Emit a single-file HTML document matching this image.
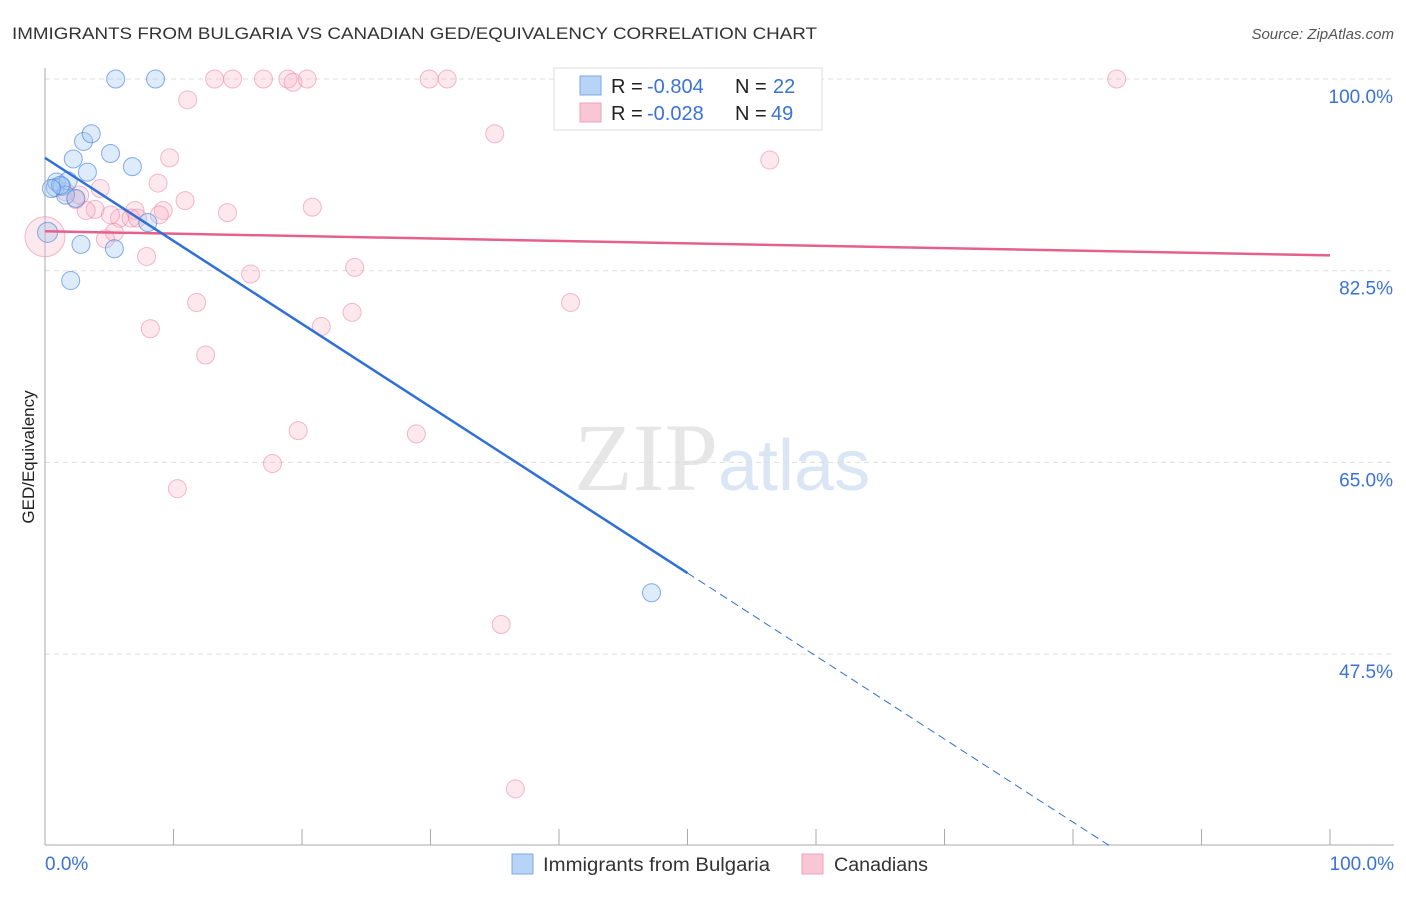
<!DOCTYPE html>
<html><head><meta charset="utf-8"><style>
body{margin:0;background:#fff;font-family:"Liberation Sans",sans-serif}
#wrap{position:relative;width:1406px;height:892px}
</style></head><body>
<div id="wrap">
<svg id="svg" width="1406" height="892" xmlns="http://www.w3.org/2000/svg">
<text x="12" y="39" font-size="17" fill="#333" textLength="805" lengthAdjust="spacingAndGlyphs">IMMIGRANTS FROM BULGARIA VS CANADIAN GED/EQUIVALENCY CORRELATION CHART</text>
<text x="1394" y="39" font-size="15" fill="#555" font-style="italic" text-anchor="end">Source: ZipAtlas.com</text>
<text x="718" y="490" font-size="96" fill="#e6e6e6" text-anchor="end" font-family="Liberation Serif">ZIP</text>
<text x="718" y="490" font-size="72" fill="#dbe6f5">atlas</text>
<text transform="translate(34,457) rotate(-90)" font-size="17" fill="#222" text-anchor="middle">GED/Equivalency</text>
<g id="grid"></g><g id="axes"></g><g id="marks"></g>
<g>
<rect x="554" y="68" width="268" height="62" fill="#fff" stroke="#ddd"/>
<rect x="580" y="76" width="21" height="19" fill="#b7d3f5" stroke="#7aaae6"/>
<rect x="580" y="103" width="21" height="19" fill="#f9c6d5" stroke="#eea0b8"/>
<text x="611" y="93" font-size="20" fill="#222">R =</text>
<text x="647" y="93" font-size="20" fill="#3a72d8">-0.804</text>
<text x="735" y="93" font-size="20" fill="#222">N =</text>
<text x="773" y="93" font-size="20" fill="#3a72d8">22</text>
<text x="611" y="120" font-size="20" fill="#222">R =</text>
<text x="647" y="120" font-size="20" fill="#3a72d8">-0.028</text>
<text x="735" y="120" font-size="20" fill="#222">N =</text>
<text x="771" y="120" font-size="20" fill="#3a72d8">49</text>
</g>
<g>
<rect x="512" y="854" width="21" height="20" fill="#b7d3f5" stroke="#7aaae6"/>
<text x="543" y="871" font-size="19" fill="#333" textLength="227" lengthAdjust="spacingAndGlyphs">Immigrants from Bulgaria</text>
<rect x="802" y="854" width="21" height="20" fill="#f9c6d5" stroke="#eea0b8"/>
<text x="834" y="871" font-size="19" fill="#333" textLength="94" lengthAdjust="spacingAndGlyphs">Canadians</text>
</g>
</svg></div>
<script>
const yTicks=[100,82.5,65,47.5];
const yTickLabels=["100.0%","82.5%","65.0%","47.5%"];
const xTickLabels=["0.0%","100.0%"];
const blueX=[5.5,8.6,3.0,3.6,2.2,5.1,3.3,6.8,0.8,0.9,1.3,1.8,1.6,2.4,0.2,2.8,5.4,8.0,2.0,47.2,1.2,0.5];
const blueY=[100,100,94.3,95.0,92.7,93.2,91.5,92.0,90.1,90.6,90.2,90.7,89.4,89.1,86.0,84.9,84.5,86.9,81.6,53.1,90.3,90.0];
const pinkX=[13.2,14.6,17.0,18.9,19.3,20.4,29.9,31.3,47.6,83.4,11.1,35.0,9.7,56.4,8.8,4.3,2.4,3.9,3.2,10.9,14.2,20.8,9.2,7.0,5.8,6.7,7.2,5.4,4.7,7.9,16.0,24.1,11.8,40.9,8.2,21.5,23.9,12.5,19.7,28.9,17.7,10.3,35.5,36.6,0,2.7,1.6,5.1,8.9];
const pinkY=[100,100,100,100,99.7,100,100,100,100,100,98.1,95.0,92.8,92.6,90.5,90.0,89.0,88.1,88.0,88.9,87.8,88.3,88.0,88.0,87.3,87.3,87.3,86.0,85.4,83.8,82.2,82.8,79.6,79.6,77.2,77.4,78.7,74.8,67.9,67.6,64.9,62.6,50.2,35.2,85.6,89.4,89.7,87.6,87.6];
const blueTrend=[92.8,-0.758];
const pinkTrend=[86.1,-0.022];
const X=v=>45+v*12.85, Y=v=>79+(100-v)*10.954;
const NS="http://www.w3.org/2000/svg";
function mk(t,a,p){const e=document.createElementNS(NS,t);for(const k in a)e.setAttribute(k,a[k]);p.appendChild(e);return e;}
const grid=document.getElementById('grid'),axes=document.getElementById('axes'),marks=document.getElementById('marks');
yTicks.forEach((t,i)=>{
 const l=mk('line',{x1:45,x2:1394,y1:Y(t),y2:Y(t),stroke:'#ddd','stroke-dasharray':'5,4'},grid);
 
 
 const tx=mk('text',{x:1393,y:Y(t)+24,'font-size':19,fill:'#3a72d8','text-anchor':'end'},axes);
 tx.textContent=yTickLabels[i];
 
 
});
mk('line',{x1:45,x2:45,y1:68,y2:845,stroke:'#aaa'},axes);
mk('line',{x1:45,x2:1394,y1:845,y2:845,stroke:'#aaa'},axes);
for(let i=0;i<=10;i++){mk('line',{x1:X(i*10),x2:X(i*10),y1:829,y2:845,stroke:'#aaa'},axes);}
[[0,'start',45],[100,'end',1394]].forEach((d,i)=>{const t=mk('text',{x:d[2],y:870,'font-size':19,fill:'#3a72d8','text-anchor':d[1]},axes);t.textContent=xTickLabels[i];
 
 });
pinkX.forEach((x,i)=>{const c=mk('circle',{cx:X(x),cy:Y(pinkY[i]),r:(x===0?20:9),fill:'rgba(247,178,200,0.3)',stroke:'rgba(232,130,165,0.55)','stroke-width':1},marks);
 
 });
blueX.forEach((x,i)=>{const c=mk('circle',{cx:X(x),cy:Y(blueY[i]),r:(x<0.3?10:9),fill:'rgba(160,198,242,0.35)',stroke:'rgba(70,130,220,0.65)','stroke-width':1},marks);
 
 });
const pl=mk('line',{x1:X(0),y1:Y(pinkTrend[0]),x2:X(100),y2:Y(pinkTrend[0]+pinkTrend[1]*100),stroke:'#e5608a','stroke-width':2.5},marks);


const bl=mk('line',{x1:X(0),y1:Y(blueTrend[0]),x2:X(50),y2:Y(blueTrend[0]+blueTrend[1]*50),stroke:'#2f6fd8','stroke-width':2.5},marks);


const xe=(30-blueTrend[0])/blueTrend[1];
const bd=mk('line',{x1:X(50),y1:Y(blueTrend[0]+blueTrend[1]*50),x2:X(xe),y2:Y(30),stroke:'#2f6fd8','stroke-width':1,'stroke-dasharray':'8,5'},marks);


</script>
</body></html>
